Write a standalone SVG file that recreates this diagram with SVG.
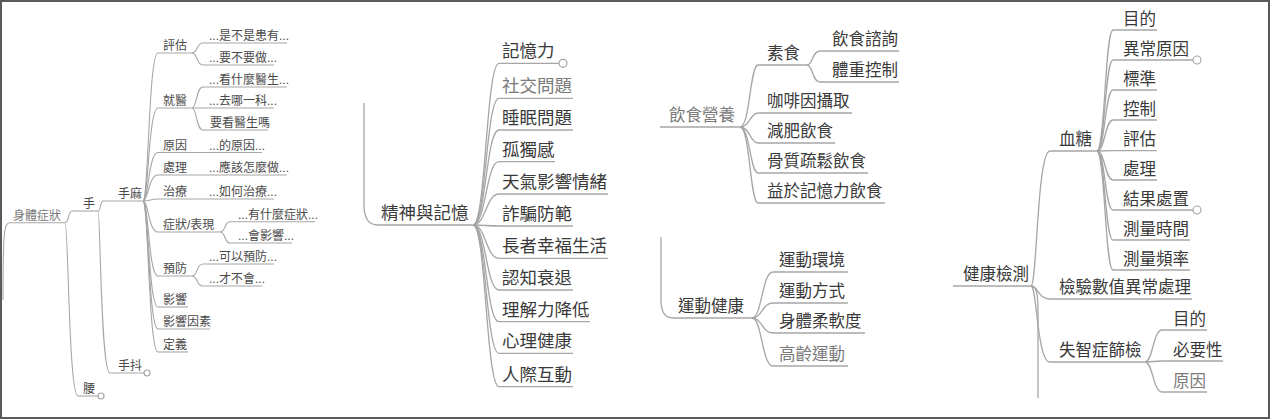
<svg xmlns="http://www.w3.org/2000/svg" width="1271" height="420" viewBox="0 0 1271 420">
<style>
text{font-family:"Liberation Sans","Noto Sans CJK TC",sans-serif;fill:#3a3a3a}
.s{font-size:12px;fill:#4a4a4a}
.m{font-size:17.5px}
.r{font-size:16.5px}
.lt{fill:#7a7a7a}
.ul,.ln{fill:none;stroke:#a6a6a6;stroke-width:1.3}
.sl{stroke-width:1.1}
.knob{fill:#fff;stroke:#a6a6a6;stroke-width:1.2}
</style>
<rect x="1" y="1" width="1268" height="417" fill="#fff" stroke="#5a5a5a" stroke-width="2"/>

<g id="connectors">
<g class="ln sl">
<path d="M3,300 C3,232 4,222.7 10,222.7"/>
<path d="M65,222.7 C69,222.7 68,211 72,211"/>
<path d="M65,222.7 C68.5,222.7 68.5,396 78,396"/>
<path d="M98,211 C101,211 100,201 103,201"/>
<path d="M98,211 C100.5,211 100.5,373 110,373"/>
<path d="M143,201 C148.5,201 148.5,53 158,53"/>
<path d="M143,201 C148.5,201 148.5,108 158,108"/>
<path d="M143,201 C148.5,201 148.5,152.5 158,152.5"/>
<path d="M143,201 C148.5,201 148.5,175 158,175"/>
<path d="M143,201 C150,201 151,199 158,199"/>
<path d="M143,201 C148.5,201 148.5,232 158,232"/>
<path d="M143,201 C148.5,201 148.5,276 158,276"/>
<path d="M143,201 C148.5,201 148.5,307 158,307"/>
<path d="M143,201 C148.5,201 148.5,329 158,329"/>
<path d="M143,201 C148.5,201 148.5,352 158,352"/>
<path d="M192,53 C198,53 196,43 203,43"/>
<path d="M192,53 C198,53 196,65 203,65"/>
<path d="M192,108 C197,108 196,87 203,87"/>
<path d="M192,108 C197,108 196,130 203,130"/>
<path d="M220,232 C226,232 224,221.7 230,221.7"/>
<path d="M220,232 C226,232 224,243 230,243"/>
<path d="M192,276 C198,276 196,264 203,264"/>
<path d="M192,276 C198,276 196,286 203,286"/>
</g>
<g class="ln">
<path d="M364,103 L364,205 C364,218 368,225 378,225"/>
<path d="M473,225 C486,225 486,63.3 499,63.3"/>
<path d="M473,225 C486,225 486,98.3 499,98.3"/>
<path d="M473,225 C486,225 486,130 499,130"/>
<path d="M473,225 C486,225 486,161.7 499,161.7"/>
<path d="M473,225 C486,225 486,194 499,194"/>
<path d="M473,225 C485,225 487,226 499,226"/>
<path d="M473,225 C486,225 486,258.3 499,258.3"/>
<path d="M473,225 C486,225 486,290 499,290"/>
<path d="M473,225 C486,225 486,321.7 499,321.7"/>
<path d="M473,225 C486,225 486,353.3 499,353.3"/>
<path d="M473,225 C486,225 486,386.7 499,386.7"/>
<path d="M740,127 C750,127 750,65 758,65"/>
<path d="M740,127 C750,127 750,113 758,113"/>
<path d="M740,127 C750,127 750,143 758,143"/>
<path d="M740,127 C750,127 750,173 758,173"/>
<path d="M740,127 C750,127 750,203 758,203"/>
<path d="M807,65 C813,65 812,51 820,51"/>
<path d="M807,65 C813,65 812,82 820,82"/>
<path d="M661,237 L661,300 C661,312 665,318 673,318"/>
<path d="M752,318 C762,318 762,272 773,272"/>
<path d="M752,318 C762,318 762,303 773,303"/>
<path d="M752,318 C762,318 762,333 773,333"/>
<path d="M752,318 C762,318 762,366 773,366"/>
<path d="M1031,286 C1037,286 1037,151 1050,151"/>
<path d="M1031,286 C1038,286 1038,299 1050,299"/>
<path d="M1031,286 C1037,286 1037,362 1050,362"/>
<path d="M1031,286 C1037,286 1038,296 1038,312 L1038,398"/>
<path d="M1097,151 C1105,151 1105,30 1113,30"/>
<path d="M1097,151 C1105,151 1105,60 1113,60"/>
<path d="M1097,151 C1105,151 1105,90 1113,90"/>
<path d="M1097,151 C1105,151 1105,120 1113,120"/>
<path d="M1097,151 L1113,150.7"/>
<path d="M1097,151 C1105,151 1105,180 1113,180"/>
<path d="M1097,151 C1105,151 1105,210 1113,210"/>
<path d="M1097,151 C1105,151 1105,240 1113,240"/>
<path d="M1097,151 C1105,151 1105,270 1113,270"/>
<path d="M1145,362 C1153,362 1153,330 1162,330"/>
<path d="M1145,362 L1162,361"/>
<path d="M1145,362 C1153,362 1153,392 1162,392"/>
</g>
</g>

<!-- left section -->
<g id="n-shenti"><text class="s lt" x="13" y="219.5">身體症狀</text><line class="ul sl" x1="10" y1="222.7" x2="65" y2="222.7"/></g>
<g id="n-shou"><text class="s" x="83" y="208">手</text><line class="ul sl" x1="72" y1="211" x2="98" y2="211"/></g>
<g id="n-shouma"><text class="s" x="118" y="198">手麻</text><line class="ul sl" x1="103" y1="201" x2="143" y2="201"/></g>
<g id="n-shoudou"><text class="s" x="118" y="370">手抖</text><line class="ul sl" x1="110" y1="373" x2="144" y2="373"/><circle class="knob" cx="147" cy="373" r="3"/></g>
<g id="n-yao"><text class="s" x="83" y="393">腰</text><line class="ul sl" x1="78" y1="396" x2="98" y2="396"/><circle class="knob" cx="101" cy="396" r="3"/></g>
<g id="n-pinggu"><text class="s" x="163" y="50">評估</text><line class="ul sl" x1="158" y1="53" x2="192" y2="53"/></g>
<g id="n-pinggu-1"><text class="s" x="209" y="40">...是不是患有...</text><line class="ul sl" x1="203" y1="43" x2="287" y2="43"/></g>
<g id="n-pinggu-2"><text class="s" x="209" y="62">...要不要做...</text><line class="ul sl" x1="203" y1="65" x2="274" y2="65"/></g>
<g id="n-jiuyi"><text class="s" x="163" y="105">就醫</text><line class="ul sl" x1="158" y1="108" x2="192" y2="108"/></g>
<g id="n-jiuyi-1"><text class="s" x="209" y="84">...看什麼醫生...</text><line class="ul sl" x1="203" y1="87" x2="287" y2="87"/></g>
<g id="n-jiuyi-2"><text class="s" x="209" y="105">...去哪一科...</text><line class="ul sl" x1="192" y1="108" x2="274" y2="108"/></g>
<g id="n-jiuyi-3"><text class="s" x="210" y="127">要看醫生嗎</text><line class="ul sl" x1="203" y1="130" x2="268" y2="130"/></g>
<g id="n-yuanyin"><text class="s" x="163" y="149.5">原因</text><line class="ul sl" x1="158" y1="152.5" x2="195" y2="152.5"/></g>
<g id="n-yuanyin-1"><text class="s" x="209" y="149.5">...的原因...</text><line class="ul sl" x1="195" y1="152.5" x2="262" y2="152.5"/></g>
<g id="n-chuli"><text class="s" x="163" y="172">處理</text><line class="ul sl" x1="158" y1="175" x2="195" y2="175"/></g>
<g id="n-chuli-1"><text class="s" x="209" y="172">...應該怎麼做...</text><line class="ul sl" x1="195" y1="175" x2="287" y2="175"/></g>
<g id="n-zhiliao"><text class="s" x="163" y="196">治療</text><line class="ul sl" x1="158" y1="199" x2="195" y2="199"/></g>
<g id="n-zhiliao-1"><text class="s" x="209" y="196">...如何治療...</text><line class="ul sl" x1="195" y1="199" x2="274" y2="199"/></g>
<g id="n-zhengzhuang"><text class="s" x="163" y="229">症狀/表現</text><line class="ul sl" x1="158" y1="232" x2="220" y2="232"/></g>
<g id="n-zhengzhuang-1"><text class="s" x="238" y="218.7">...有什麼症狀...</text><line class="ul sl" x1="230" y1="221.7" x2="315" y2="221.7"/></g>
<g id="n-zhengzhuang-2"><text class="s" x="238" y="240">...會影響...</text><line class="ul sl" x1="230" y1="243" x2="292" y2="243"/></g>
<g id="n-yufang"><text class="s" x="163" y="273">預防</text><line class="ul sl" x1="158" y1="276" x2="192" y2="276"/></g>
<g id="n-yufang-1"><text class="s" x="209" y="261">...可以預防...</text><line class="ul sl" x1="203" y1="264" x2="274" y2="264"/></g>
<g id="n-yufang-2"><text class="s" x="209" y="283">...才不會...</text><line class="ul sl" x1="203" y1="286" x2="262" y2="286"/></g>
<g id="n-yingxiang"><text class="s" x="163" y="304">影響</text><line class="ul sl" x1="158" y1="307" x2="188" y2="307"/></g>
<g id="n-yingxiangyinsu"><text class="s" x="163" y="326">影響因素</text><line class="ul sl" x1="158" y1="329" x2="210" y2="329"/></g>
<g id="n-dingyi"><text class="s" x="163" y="349">定義</text><line class="ul sl" x1="158" y1="352" x2="188" y2="352"/></g>

<!-- middle section -->
<g id="n-jingshen"><text class="m" x="381" y="218.5">精神與記憶</text><line class="ul" x1="378" y1="225" x2="473" y2="225"/></g>
<g id="n-jiyili"><text class="m" x="502" y="57.3">記憶力</text><line class="ul" x1="499" y1="63.3" x2="559" y2="63.3"/><circle class="knob" cx="563" cy="63.3" r="4"/></g>
<g id="n-shejiao"><text class="m lt" x="502" y="92.3">社交問題</text><line class="ul" x1="499" y1="98.3" x2="573" y2="98.3"/></g>
<g id="n-shuimian"><text class="m" x="502" y="124">睡眠問題</text><line class="ul" x1="499" y1="130" x2="573" y2="130"/></g>
<g id="n-gudu"><text class="m" x="502" y="155.7">孤獨感</text><line class="ul" x1="499" y1="161.7" x2="555" y2="161.7"/></g>
<g id="n-tianqi"><text class="m" x="502" y="188">天氣影響情緒</text><line class="ul" x1="499" y1="194" x2="608" y2="194"/></g>
<g id="n-zhapian"><text class="m" x="502" y="220">詐騙防範</text><line class="ul" x1="499" y1="226" x2="573" y2="226"/></g>
<g id="n-zhangzhe"><text class="m" x="502" y="252.3">長者幸福生活</text><line class="ul" x1="499" y1="258.3" x2="608" y2="258.3"/></g>
<g id="n-renzhi"><text class="m" x="502" y="284">認知衰退</text><line class="ul" x1="499" y1="290" x2="573" y2="290"/></g>
<g id="n-lijie"><text class="m" x="502" y="315.7">理解力降低</text><line class="ul" x1="499" y1="321.7" x2="590" y2="321.7"/></g>
<g id="n-xinli"><text class="m" x="502" y="347.3">心理健康</text><line class="ul" x1="499" y1="353.3" x2="573" y2="353.3"/></g>
<g id="n-renji"><text class="m" x="502" y="380.7">人際互動</text><line class="ul" x1="499" y1="386.7" x2="573" y2="386.7"/></g>

<!-- third section -->
<g id="n-yinshi"><text class="r lt" x="669" y="120.5">飲食營養</text><line class="ul" x1="660" y1="127" x2="740" y2="127"/></g>
<g id="n-sushi"><text class="r" x="767" y="58.5">素食</text><line class="ul" x1="758" y1="65" x2="807" y2="65"/></g>
<g id="n-zixun"><text class="r" x="832" y="44.5">飲食諮詢</text><line class="ul" x1="820" y1="51" x2="899" y2="51"/></g>
<g id="n-tizhong"><text class="r" x="832" y="75.5">體重控制</text><line class="ul" x1="820" y1="82" x2="899" y2="82"/></g>
<g id="n-kafei"><text class="r" x="767" y="106.5">咖啡因攝取</text><line class="ul" x1="758" y1="113" x2="852" y2="113"/></g>
<g id="n-jianfei"><text class="r" x="767" y="136.5">減肥飲食</text><line class="ul" x1="758" y1="143" x2="835" y2="143"/></g>
<g id="n-guzhi"><text class="r" x="767" y="166.5">骨質疏鬆飲食</text><line class="ul" x1="758" y1="173" x2="868" y2="173"/></g>
<g id="n-yiyu"><text class="r" x="767" y="196.5">益於記憶力飲食</text><line class="ul" x1="758" y1="203" x2="885" y2="203"/></g>
<g id="n-yundong"><text class="r" x="678" y="311.5">運動健康</text><line class="ul" x1="673" y1="318" x2="752" y2="318"/></g>
<g id="n-huanjing"><text class="r" x="779" y="265.5">運動環境</text><line class="ul" x1="773" y1="272" x2="848" y2="272"/></g>
<g id="n-fangshi"><text class="r" x="779" y="296.5">運動方式</text><line class="ul" x1="773" y1="303" x2="848" y2="303"/></g>
<g id="n-rouruan"><text class="r" x="779" y="326.5">身體柔軟度</text><line class="ul" x1="773" y1="333" x2="865" y2="333"/></g>
<g id="n-gaoling"><text class="r lt" x="779" y="359.5">高齡運動</text><line class="ul" x1="773" y1="366" x2="848" y2="366"/></g>

<!-- right section -->
<g id="n-jiankang"><text class="r" x="963" y="280">健康檢測</text><line class="ul" x1="953" y1="286" x2="1031" y2="286"/></g>
<g id="n-xuetang"><text class="r" x="1059" y="145">血糖</text><line class="ul" x1="1050" y1="151" x2="1097" y2="151"/></g>
<g id="n-xt-mudi"><text class="r" x="1123" y="24.5">目的</text><line class="ul" x1="1113" y1="30" x2="1157" y2="30"/></g>
<g id="n-xt-yichang"><text class="r" x="1123" y="54.5">異常原因</text><line class="ul" x1="1113" y1="60" x2="1193" y2="60"/><circle class="knob" cx="1197" cy="60" r="4"/></g>
<g id="n-xt-biaozhun"><text class="r" x="1123" y="84.5">標準</text><line class="ul" x1="1113" y1="90" x2="1157" y2="90"/></g>
<g id="n-xt-kongzhi"><text class="r" x="1123" y="114.5">控制</text><line class="ul" x1="1113" y1="120" x2="1157" y2="120"/></g>
<g id="n-xt-pinggu"><text class="r" x="1123" y="145">評估</text><line class="ul" x1="1113" y1="150.7" x2="1157" y2="150.7"/></g>
<g id="n-xt-chuli"><text class="r" x="1123" y="174.5">處理</text><line class="ul" x1="1113" y1="180" x2="1157" y2="180"/></g>
<g id="n-xt-jieguo"><text class="r" x="1123" y="204.5">結果處置</text><line class="ul" x1="1113" y1="210" x2="1193" y2="210"/><circle class="knob" cx="1197" cy="210" r="4"/></g>
<g id="n-xt-shijian"><text class="r" x="1123" y="234.5">測量時間</text><line class="ul" x1="1113" y1="240" x2="1190" y2="240"/></g>
<g id="n-xt-pinlv"><text class="r" x="1123" y="264.5">測量頻率</text><line class="ul" x1="1113" y1="270" x2="1190" y2="270"/></g>
<g id="n-jianyan"><text class="r" x="1059" y="293">檢驗數值異常處理</text><line class="ul" x1="1050" y1="299" x2="1192" y2="299"/></g>
<g id="n-shizhi"><text class="r" x="1059" y="356">失智症篩檢</text><line class="ul" x1="1050" y1="362" x2="1145" y2="362"/></g>
<g id="n-sz-mudi"><text class="r" x="1173" y="324.5">目的</text><line class="ul" x1="1162" y1="330" x2="1207" y2="330"/></g>
<g id="n-sz-biyao"><text class="r" x="1173" y="355.5">必要性</text><line class="ul" x1="1162" y1="361" x2="1223" y2="361"/></g>
<g id="n-sz-yuanyin"><text class="r lt" x="1173" y="386.5">原因</text><line class="ul" x1="1162" y1="392" x2="1207" y2="392"/></g>
</svg>
